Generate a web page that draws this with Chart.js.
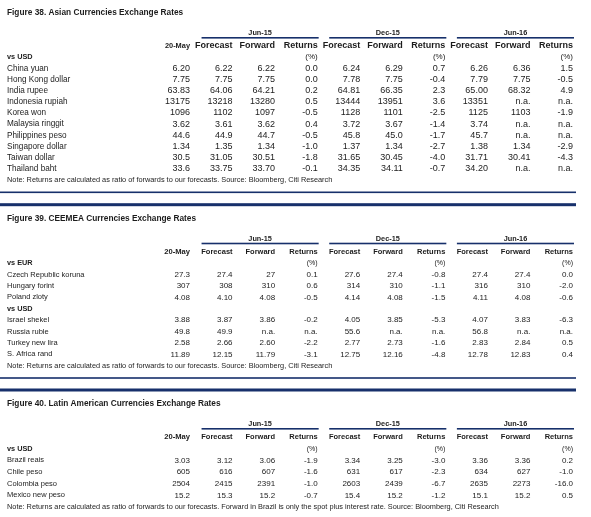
<!DOCTYPE html>
<html>
<head>
<meta charset="utf-8">
<script src="https://cdn.jsdelivr.net/npm/chart.js@4.4.1/dist/chart.umd.min.js"></script>
<style>
    html, body { margin: 0; padding: 0; background: #fff; }
    body { width: 591px; height: 517px; position: relative; overflow: hidden; }
    canvas { position: absolute; left: 0; }
</style>
</head>
<body>
<canvas id="asiaChart" style="top:0px"></canvas>
<canvas id="ceemeaChart" style="top:198px"></canvas>
<canvas id="latamChart" style="top:384px"></canvas>
<script>
// Columns: keys must be unique for the category scale, titles are what gets printed
const columnKeys = ['may20', 'jun15Fcst', 'jun15Fwd', 'jun15Ret', 'dec15Fcst', 'dec15Fwd', 'dec15Ret', 'jun16Fcst', 'jun16Fwd', 'jun16Ret'];
const columnTitles = ['20-May', 'Forecast', 'Forward', 'Returns', 'Forecast', 'Forward', 'Returns', 'Forecast', 'Forward', 'Returns'];
const periods = ['Jun-15', 'Dec-15', 'Jun-16'];

// Figure 38
const asiaTitle = 'Figure 38. Asian Currencies Exchange Rates';
const asiaRows = ['vs USD', 'China yuan', 'Hong Kong dollar', 'India rupee', 'Indonesia rupiah', 'Korea won',
    'Malaysia ringgit', 'Philippines peso', 'Singapore dollar', 'Taiwan dollar', 'Thailand baht'];
const asiaValues = [
    null,
    ['6.20', '6.22', '6.22', '0.0', '6.24', '6.29', '0.7', '6.26', '6.36', '1.5'],
    ['7.75', '7.75', '7.75', '0.0', '7.78', '7.75', '-0.4', '7.79', '7.75', '-0.5'],
    ['63.83', '64.06', '64.21', '0.2', '64.81', '66.35', '2.3', '65.00', '68.32', '4.9'],
    ['13175', '13218', '13280', '0.5', '13444', '13951', '3.6', '13351', 'n.a.', 'n.a.'],
    ['1096', '1102', '1097', '-0.5', '1128', '1101', '-2.5', '1125', '1103', '-1.9'],
    ['3.62', '3.61', '3.62', '0.4', '3.72', '3.67', '-1.4', '3.74', 'n.a.', 'n.a.'],
    ['44.6', '44.9', '44.7', '-0.5', '45.8', '45.0', '-1.7', '45.7', 'n.a.', 'n.a.'],
    ['1.34', '1.35', '1.34', '-1.0', '1.37', '1.34', '-2.7', '1.38', '1.34', '-2.9'],
    ['30.5', '31.05', '30.51', '-1.8', '31.65', '30.45', '-4.0', '31.71', '30.41', '-4.3'],
    ['33.6', '33.75', '33.70', '-0.1', '34.35', '34.11', '-0.7', '34.20', 'n.a.', 'n.a.']
];
const asiaNote = 'Note: Returns are calculated as ratio of forwards to our forecasts. Source: Bloomberg, Citi Research';

// Figure 39
const ceemeaTitle = 'Figure 39. CEEMEA Currencies Exchange Rates';
const ceemeaRows = ['vs EUR', 'Czech Republic koruna', 'Hungary forint', 'Poland zloty', 'vs USD',
    'Israel shekel', 'Russia ruble', 'Turkey new lira', 'S. Africa rand'];
const ceemeaValues = [
    null,
    ['27.3', '27.4', '27', '0.1', '27.6', '27.4', '-0.8', '27.4', '27.4', '0.0'],
    ['307', '308', '310', '0.6', '314', '310', '-1.1', '316', '310', '-2.0'],
    ['4.08', '4.10', '4.08', '-0.5', '4.14', '4.08', '-1.5', '4.11', '4.08', '-0.6'],
    null,
    ['3.88', '3.87', '3.86', '-0.2', '4.05', '3.85', '-5.3', '4.07', '3.83', '-6.3'],
    ['49.8', '49.9', 'n.a.', 'n.a.', '55.6', 'n.a.', 'n.a.', '56.8', 'n.a.', 'n.a.'],
    ['2.58', '2.66', '2.60', '-2.2', '2.77', '2.73', '-1.6', '2.83', '2.84', '0.5'],
    ['11.89', '12.15', '11.79', '-3.1', '12.75', '12.16', '-4.8', '12.78', '12.83', '0.4']
];
const ceemeaNote = 'Note: Returns are calculated as ratio of forwards to our forecasts. Source: Bloomberg, Citi Research';

// Figure 40
const latamTitle = 'Figure 40. Latin American Currencies Exchange Rates';
const latamRows = ['vs USD', 'Brazil reais', 'Chile peso', 'Colombia peso', 'Mexico new peso'];
const latamValues = [
    null,
    ['3.03', '3.12', '3.06', '-1.9', '3.34', '3.25', '-3.0', '3.36', '3.36', '0.2'],
    ['605', '616', '607', '-1.6', '631', '617', '-2.3', '634', '627', '-1.0'],
    ['2504', '2415', '2391', '-1.0', '2603', '2439', '-6.7', '2635', '2273', '-16.0'],
    ['15.2', '15.3', '15.2', '-0.7', '15.4', '15.2', '-1.2', '15.1', '15.2', '0.5']
];
const latamNote = 'Note: Returns are calculated as ratio of forwards to our forecasts. Forward in Brazil is only the spot plus interest rate. Source: Bloomberg, Citi Research';

const FONT = '"Liberation Sans", Arial, sans-serif';
const INK = '#1c1c1c';
const NAVY = '#17306b';

// Draws the text table on top of the (invisible) scatter points
const tablePlugin = {
    id: 'currencyTable',
    afterDraw(chart, args, opts) {
        const ctx = chart.ctx;
        const xs = chart.scales.x;
        const ys = chart.scales.y;
        const rowKeys = ys.getLabels();
        const hdrY = ys.getPixelForValue(0);
        const noteY = ys.getPixelForValue(rowKeys.length - 1);
        const right = xs.getPixelForValue(columnKeys.length - 1);

        ctx.save();
        ctx.textBaseline = 'middle';

        // thick rule above the title
        if (opts.topRule) {
            ctx.fillStyle = NAVY;
            ctx.fillRect(0, hdrY - 48.5, right + 3, 3);
        }

        // title
        ctx.fillStyle = INK;
        ctx.textAlign = 'left';
        ctx.font = 'bold 8.3px ' + FONT;
        ctx.fillText(opts.title, 7, hdrY - 33);

        // period headers with their underline
        periods.forEach((p, i) => {
            const x0 = xs.getPixelForValue(1 + i * 3) - 31;
            const x1 = xs.getPixelForValue(3 + i * 3) + 1;
            ctx.fillStyle = NAVY;
            ctx.fillRect(x0, hdrY - 9, x1 - x0, 1.6);
            ctx.fillStyle = INK;
            ctx.textAlign = 'center';
            ctx.font = 'bold 7.3px ' + FONT;
            ctx.fillText(p, (x0 + x1) / 2, hdrY - 13);
        });

        // column headers
        ctx.textAlign = 'right';
        columnTitles.forEach((t, i) => {
            const x = xs.getPixelForValue(i);
            ctx.font = (i === 0 ? opts.firstHeaderFont : opts.headerFont) + FONT;
            ctx.fillText(t, x, hdrY);
            if (t === 'Returns') {
                ctx.font = opts.pctFont + FONT;
                ctx.fillText('(%)', x, ys.getPixelForValue(1));
            }
        });

        // row labels
        ctx.textAlign = 'left';
        opts.rows.forEach((r, i) => {
            const isGroup = r.startsWith('vs ');
            ctx.font = (isGroup ? 'bold 7.3px ' : opts.rowFont) + FONT;
            ctx.fillText(r, 7, ys.getPixelForValue(i + 1));
        });

        // cell values, positioned by the chart's own points
        const meta = chart.getDatasetMeta(0);
        const data = chart.data.datasets[0].data;
        ctx.textAlign = 'right';
        ctx.font = opts.valueFont + FONT;
        meta.data.forEach((pt, i) => {
            ctx.fillText(data[i].text, pt.x, pt.y);
        });

        // note + thin rule
        ctx.textAlign = 'left';
        ctx.font = '7.35px ' + FONT;
        ctx.fillText(opts.note, 7, noteY);
        ctx.fillStyle = NAVY;
        ctx.fillRect(0, noteY + 11.5, right + 3, 1.6);

        ctx.restore();
    }
};

function buildPoints(rows, values) {
    const points = [];
    rows.forEach((r, ri) => {
        if (!values[ri]) return;
        values[ri].forEach((v, ci) => {
            points.push({ x: columnKeys[ci], y: r, text: v });
        });
    });
    return points;
}

function makeTable(canvasId, height, padTop, padBottom, cfg) {
    const canvas = document.getElementById(canvasId);
    canvas.width = 591;
    canvas.height = height;
    canvas.style.width = '591px';
    canvas.style.height = height + 'px';

    return new Chart(canvas, {
        type: 'scatter',
        data: {
            datasets: [{
                data: buildPoints(cfg.rows, cfg.values),
                pointRadius: 0,
                pointHoverRadius: 0
            }]
        },
        options: {
            responsive: false,
            animation: false,
            events: [],
            layout: {
                padding: { left: 190, right: 18, top: padTop, bottom: padBottom }
            },
            scales: {
                x: {
                    type: 'category',
                    labels: columnKeys,
                    offset: false,
                    display: false
                },
                y: {
                    type: 'category',
                    labels: ['header'].concat(cfg.rows, ['note']),
                    offset: false,
                    display: false
                }
            },
            plugins: {
                legend: { display: false },
                tooltip: { enabled: false },
                currencyTable: cfg
            }
        },
        plugins: [tablePlugin]
    });
}

makeTable('asiaChart', 200, 46, 20, {
    title: asiaTitle, rows: asiaRows, values: asiaValues, note: asiaNote, topRule: false,
    firstHeaderFont: 'bold 7.4px ', headerFont: 'bold 9px ', pctFont: '8px ', valueFont: '9px ',
    rowFont: '8.2px '
});
makeTable('ceemeaChart', 186, 53.7, 18.3, {
    title: ceemeaTitle, rows: ceemeaRows, values: ceemeaValues, note: ceemeaNote, topRule: true,
    firstHeaderFont: 'bold 7.6px ', headerFont: 'bold 7.5px ', pctFont: '7px ', valueFont: '8px ',
    rowFont: '7.5px '
});
makeTable('latamChart', 133, 53, 10, {
    title: latamTitle, rows: latamRows, values: latamValues, note: latamNote, topRule: true,
    firstHeaderFont: 'bold 7.6px ', headerFont: 'bold 7.5px ', pctFont: '7px ', valueFont: '8px ',
    rowFont: '7.5px '
});
</script>
</body>
</html>
